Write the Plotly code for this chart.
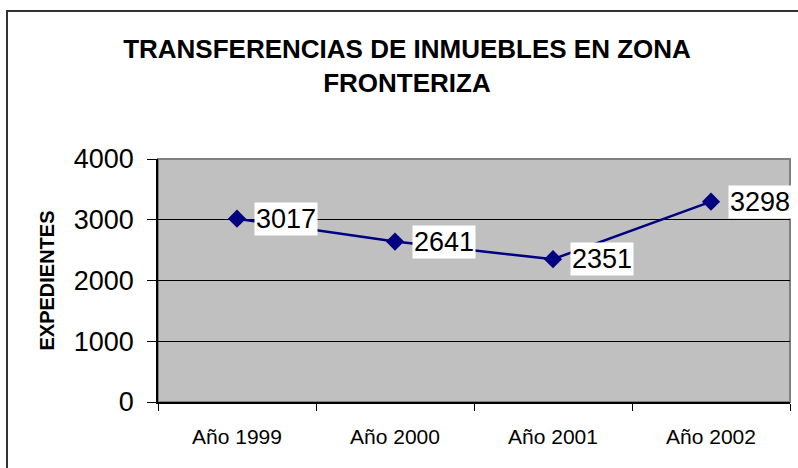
import plotly.graph_objects as go

categories = ["Año 1999", "Año 2000", "Año 2001", "Año 2002"]
expedientes = [3017, 2641, 2351, 3298]
y_ticks = [0, 1000, 2000, 3000, 4000]

FONT = "Liberation Sans, Arial, sans-serif"
W, H = 798, 468
ML, MR, MT, MB = 158, 8, 159, 66
pw, ph = W - ML - MR, H - MT - MB

fig = go.Figure()
fig.add_trace(go.Scatter(
    x=categories, y=expedientes, mode="lines+markers",
    line=dict(color="#000080", width=2.5),
    marker=dict(symbol="diamond", size=14, color="#000080"),
    hoverinfo="skip", showlegend=False,
))

for c, v in zip(categories, expedientes):
    fig.add_annotation(
        x=c, y=v, xref="x", yref="y", text=str(v), showarrow=False,
        xanchor="left", yanchor="middle", xshift=17,
        font=dict(family=FONT, size=27, color="black"),
        bgcolor="white", borderpad=1,
    )

# outer chart border
fig.add_shape(type="rect", xref="paper", yref="paper",
              x0=(7 - ML) / pw, x1=(W + 10 - ML) / pw,
              y0=(MT + ph - (H + 10)) / ph, y1=(MT + ph - 11) / ph,
              line=dict(color="#333333", width=2), fillcolor="rgba(0,0,0,0)", layer="below")
# plot area border (gray)
fig.add_shape(type="rect", xref="paper", yref="paper", x0=0, x1=1, y0=0, y1=1,
              line=dict(color="#808080", width=2), fillcolor="rgba(0,0,0,0)", layer="below")

fig.update_layout(
    width=W, height=H,
    margin=dict(l=ML, r=MR, t=MT, b=MB),
    paper_bgcolor="white", plot_bgcolor="#C0C0C0",
    font=dict(family=FONT, color="black"),
    title=dict(
        text="<b>TRANSFERENCIAS DE INMUEBLES EN ZONA<br>FRONTERIZA</b>",
        x=0.51, xanchor="center", xref="container",
        y=1 - 58 / H, yanchor="top", yref="container",
        font=dict(family=FONT, size=26, color="black"),
    ),
    xaxis=dict(
        type="category", range=[-0.5, 3.5], tickson="boundaries",
        ticks="outside", ticklen=7, tickcolor="black", tickwidth=1,
        showline=True, linecolor="black", linewidth=1.5,
        showgrid=False, zeroline=False,
        tickfont=dict(family=FONT, size=21, color="black"),
        ticklabelstandoff=15,
    ),
    yaxis=dict(
        range=[0, 4000], tickvals=y_ticks, ticktext=[str(t) for t in y_ticks],
        ticks="outside", ticklen=9, tickcolor="black", tickwidth=1,
        showline=True, linecolor="black", linewidth=1.5,
        showgrid=True, gridcolor="black", gridwidth=1, zeroline=False,
        tickfont=dict(family=FONT, size=27, color="black"),
        ticklabelstandoff=8,
        title=dict(text="<b>EXPEDIENTES</b>", font=dict(family=FONT, size=20, color="black"),
                   standoff=14),
    ),
)

fig.write_html("out.html", config={"displayModeBar": False},
               post_script="document.body.style.margin='0';")
